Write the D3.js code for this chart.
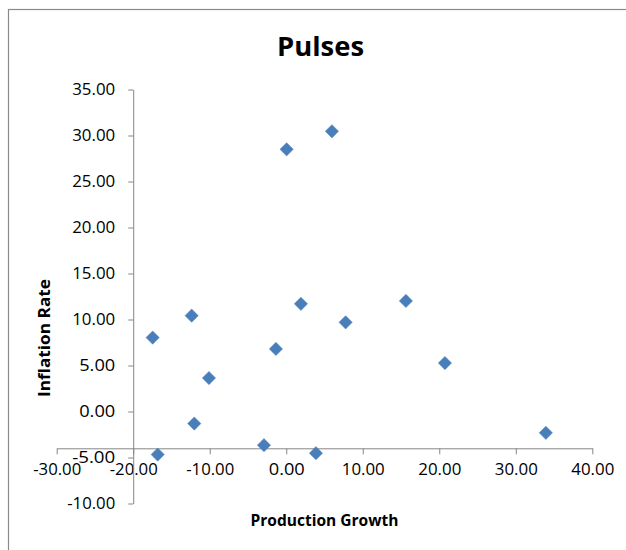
<!DOCTYPE html>
<html>
<head>
<meta charset="utf-8">
<script src="https://cdn.jsdelivr.net/npm/d3@7"></script>
<style>
  html, body { margin: 0; padding: 0; background: #fff; }
  svg { display: block; font-family: "Open Sans", "Noto Sans", sans-serif; }
</style>
</head>
<body>
<svg id="chart" width="626" height="550"></svg>
<script>
// ---- data ----
const title = "Pulses";
const xLabel = "Production Growth";
const yLabel = "Inflation Rate";
const productionGrowth = [-17.46, -16.80, -12.36, -12.02, -10.10, -2.91, -1.35, 0.05, 1.92, 3.88, 5.97, 7.76, 15.64, 20.74, 33.93];
const inflationRate    = [  8.03,  -4.68,  10.42,  -1.31,   3.64, -3.66,  6.80, 28.50, 11.70, -4.53, 30.46, 9.69, 12.02,  5.27, -2.32];
const xTicks = [-30, -20, -10, 0, 10, 20, 30, 40];
const yTicks = [-10, -5, 0, 5, 10, 15, 20, 25, 30, 35];
const xAxisCrossesAtY = -4;
const yAxisCrossesAtX = -20;

// ---- layout ----
const svg = d3.select("#chart");
const x = d3.scaleLinear().domain([-30, 40]).range([56.7, 592.3]);
const y = d3.scaleLinear().domain([-10, 35]).range([503.5, 89.5]);
const fmt = d => d.toFixed(2);
const axisColor = "#868686";

// chart border (extends past the picture on right and bottom)
svg.append("rect")
  .attr("x", 8.5).attr("y", 9.5).attr("width", 700).attr("height", 700)
  .attr("fill", "none").attr("stroke", "#8a8a8a").attr("stroke-width", 1.2);

// title
svg.append("text")
  .attr("x", 320.5).attr("y", 55.5)
  .attr("text-anchor", "middle")
  .attr("font-weight", "bold").attr("font-size", 27)
  .attr("fill", "#000")
  .attr("textLength", 87).attr("lengthAdjust", "spacingAndGlyphs")
  .text(title);

// x axis
const xAxisG = svg.append("g")
  .attr("transform", `translate(0,${y(xAxisCrossesAtY)})`)
  .call(d3.axisBottom(x).tickValues(xTicks).tickFormat(fmt).tickSizeInner(6).tickSizeOuter(0).tickPadding(9));
xAxisG.select(".domain").attr("stroke", axisColor);
xAxisG.selectAll(".tick line").attr("stroke", axisColor);
xAxisG.selectAll(".tick text").attr("font-size", 16).attr("fill", "#000")
  .attr("font-family", "'Open Sans', sans-serif")
  .attr("textLength", 48).attr("lengthAdjust", "spacingAndGlyphs");

// y axis
const yAxisG = svg.append("g")
  .attr("transform", `translate(${x(yAxisCrossesAtX)},0)`)
  .call(d3.axisLeft(y).tickValues(yTicks).tickFormat(fmt).tickSizeInner(5).tickSizeOuter(0).tickPadding(13));
yAxisG.select(".domain").attr("stroke", axisColor);
yAxisG.selectAll(".tick line").attr("stroke", axisColor);
yAxisG.selectAll(".tick text").attr("font-size", 16).attr("fill", "#000")
  .attr("font-family", "'Open Sans', sans-serif")
  .attr("textLength", d => (d < 0 && d <= -10) || d >= 10 ? 43 : 36)
  .attr("lengthAdjust", "spacingAndGlyphs");
yAxisG.selectAll(".tick text")
  .attr("textLength", d => {
    const s = fmt(d);
    return s.length === 6 ? 48 : s.length === 5 ? 43 : 36;
  });
xAxisG.selectAll(".tick text")
  .attr("textLength", d => {
    const s = fmt(d);
    return s.length === 6 ? 48 : s.length === 5 ? 43 : 36;
  });

// axis titles
svg.append("text")
  .attr("x", 324.5).attr("y", 526)
  .attr("text-anchor", "middle")
  .attr("font-weight", "bold").attr("font-size", 16.5)
  .attr("fill", "#000")
  .attr("textLength", 148).attr("lengthAdjust", "spacingAndGlyphs")
  .text(xLabel);

svg.append("text")
  .attr("transform", "translate(50,338) rotate(-90)")
  .attr("text-anchor", "middle")
  .attr("font-weight", "bold").attr("font-size", 16.5)
  .attr("fill", "#000")
  .attr("textLength", 118).attr("lengthAdjust", "spacingAndGlyphs")
  .text(yLabel);

// points (diamonds)
const pts = productionGrowth.map((v, i) => ({ x: v, y: inflationRate[i] }));
const diamond = d3.symbol().type(d3.symbolDiamond2).size(112);
svg.append("g").selectAll("path")
  .data(pts)
  .join("path")
  .attr("transform", d => `translate(${x(d.x)},${y(d.y)})`)
  .attr("d", diamond)
  .attr("fill", "#4a7ebb")
  .attr("stroke", "#4a7ebb").attr("stroke-width", 0.5);
</script>
</body>
</html>
